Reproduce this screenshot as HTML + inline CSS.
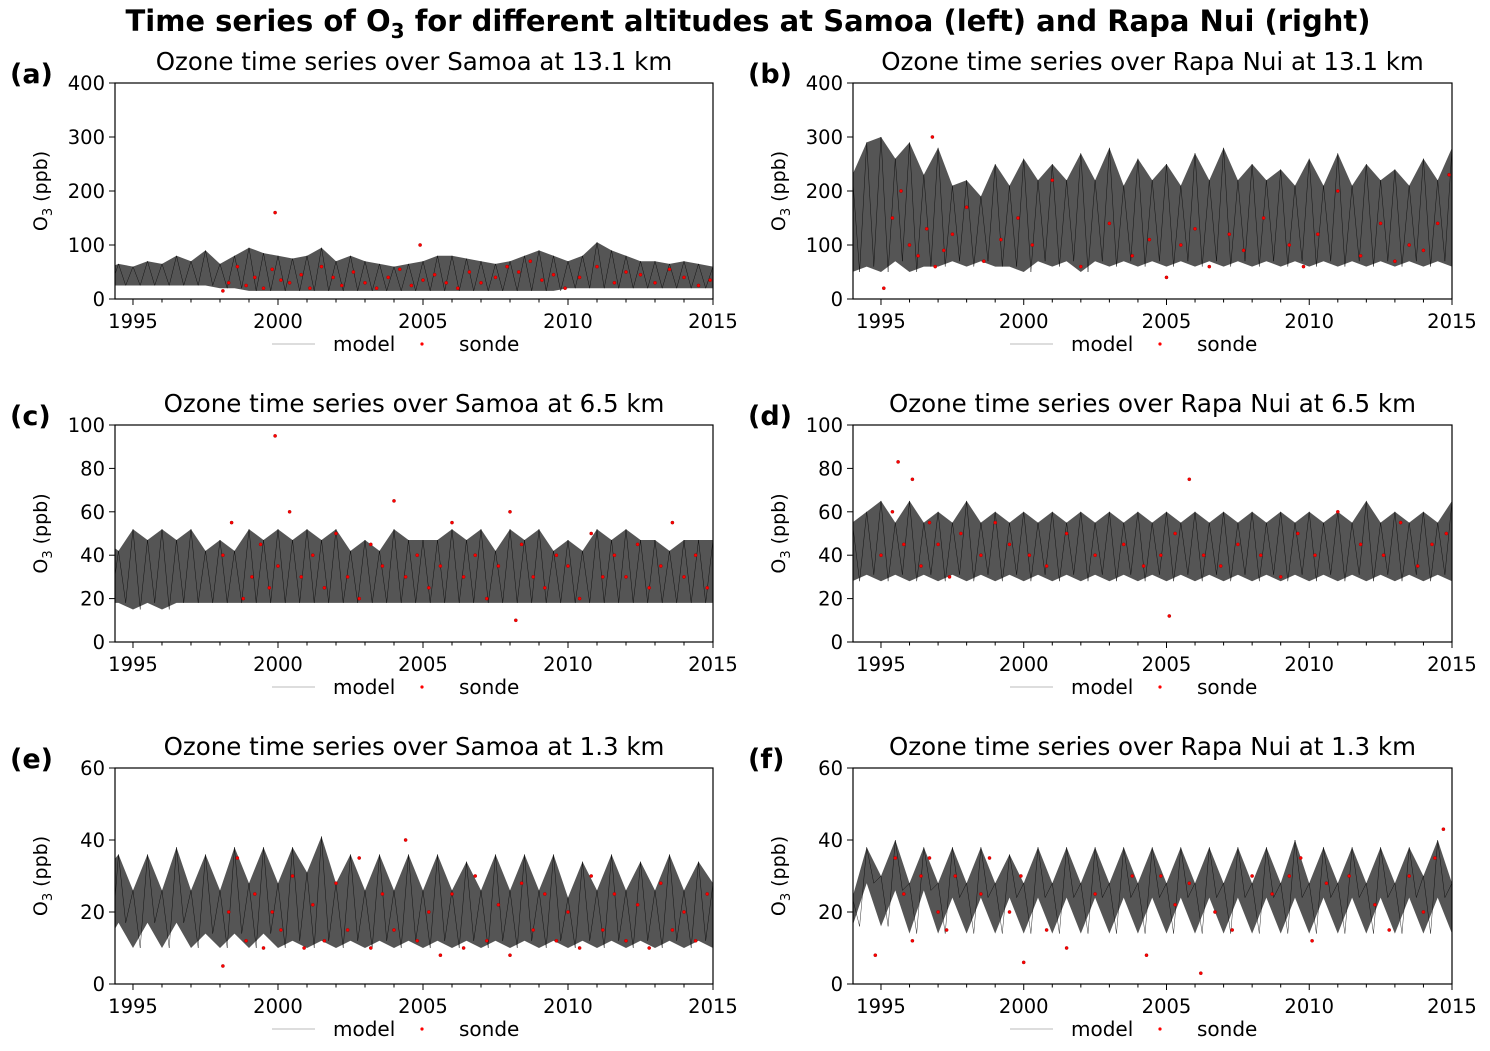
<!DOCTYPE html>
<html><head><meta charset="utf-8"><style>
body{margin:0;background:#fff}
svg text{font-family:"DejaVu Sans","Liberation Sans",sans-serif}
</style></head><body>
<svg id="fig" width="1490" height="1046" viewBox="0 0 1490 1046" xmlns="http://www.w3.org/2000/svg">
<text x="748" y="31" text-anchor="middle" font-size="29" font-weight="bold">Time series of O<tspan font-size="20" dy="7">3</tspan><tspan dy="-7"> for different altitudes at Samoa (left) and Rapa Nui (right)</tspan></text>
</svg>
<script>
// model envelope, semiannual from 1994.0
const tStart = 1994.0, tStep = 0.5;
const aHi=[55,65,60,70,65,80,70,90,65,80,95,85,80,75,80,95,70,80,70,65,60,65,70,80,80,75,70,65,70,80,90,80,70,80,105,90,80,70,70,65,70,65,60];
const aLo=[25,25,25,25,25,25,25,25,20,20,15,15,15,15,15,15,15,15,15,15,15,15,15,15,15,15,15,15,15,15,15,15,20,20,20,20,20,20,20,20,20,20,20];
const bHi=[230,290,300,260,290,230,280,210,220,190,250,210,260,220,250,220,270,220,280,210,260,220,250,210,270,220,280,220,250,220,240,210,260,210,270,210,250,220,240,210,260,220,280];
const bLo=[50,60,50,70,50,60,60,70,60,70,60,60,50,70,60,70,50,70,60,70,60,70,60,70,60,70,60,70,60,70,60,70,60,70,60,70,60,70,60,70,60,70,60];
const cHi=[47,42,52,47,52,47,52,42,47,42,52,47,52,47,52,47,52,42,47,42,52,47,47,47,52,47,52,42,52,47,52,42,47,42,52,47,52,47,47,42,47,47,47];
const cLo=[18,18,15,18,15,18,18,18,18,18,18,18,18,18,18,18,18,18,18,18,18,18,18,18,18,18,18,18,18,18,18,18,18,18,18,18,18,18,18,18,18,18,18];
const dHi=[55,60,65,55,65,55,60,55,65,55,60,55,60,55,60,55,60,55,60,55,60,55,60,55,60,55,60,55,60,55,60,55,60,55,60,55,65,55,60,55,60,55,65];
const dLo=[28,31,28,31,28,31,28,31,28,31,28,31,28,31,28,31,28,31,28,31,28,31,28,31,28,31,28,31,28,31,28,31,28,31,28,31,28,31,28,31,28,31,28];
const eHi=[31,36,26,36,26,38,26,36,26,38,28,38,28,38,31,41,28,36,26,36,26,36,26,36,26,34,26,36,26,36,26,36,24,34,26,36,26,34,26,36,26,34,28];
const eLo=[10,17,10,17,10,17,10,14,10,14,10,14,10,12,10,12,10,12,10,12,10,12,10,12,10,12,10,12,10,12,10,12,10,12,10,12,10,12,10,12,10,12,10];
const fHi=[24,38,30,40,28,38,28,38,28,38,28,36,28,38,28,38,28,38,28,38,28,38,28,38,28,38,28,38,28,38,28,40,28,38,28,38,28,38,28,38,30,40,28];
const fLo=[16,28,16,26,14,26,14,24,14,24,14,24,14,24,14,24,14,24,14,24,14,24,14,24,14,24,14,24,14,24,14,24,14,24,14,24,14,24,14,24,14,24,14];
// sonde observations
const aT=[1998.1,1998.3,1998.6,1998.9,1999.2,1999.5,1999.8,2000.1,2000.4,2000.8,2001.1,2001.5,2001.9,2002.2,2002.6,2003.0,2003.4,2003.8,2004.2,2004.6,2005.0,2005.4,2005.8,2006.2,2006.6,2007.0,2007.5,2007.9,2008.3,2008.7,2009.1,2009.5,2009.9,2010.4,2011.0,2011.6,2012.0,2012.5,2013.0,2013.5,2014.0,2014.5,2014.9,1999.9,2004.9];
const aV=[15,30,60,25,40,20,55,35,30,45,20,60,40,25,50,30,20,40,55,25,35,45,30,20,50,30,40,60,50,70,35,45,20,40,60,30,50,45,30,55,40,25,35,160,100];
const bT=[1995.1,1995.4,1995.7,1996.0,1996.3,1996.6,1996.9,1997.2,1997.5,1998.0,1998.6,1999.2,1999.8,2000.3,2001.0,2002.0,2003.0,2003.8,2004.4,2005.0,2005.5,2006.0,2006.5,2007.2,2007.7,2008.4,2009.3,2009.8,2010.3,2011.0,2011.8,2012.5,2013.0,2013.5,2014.0,2014.5,2014.9,1996.8];
const bV=[20,150,200,100,80,130,60,90,120,170,70,110,150,100,220,60,140,80,110,40,100,130,60,120,90,150,100,60,120,200,80,140,70,100,90,140,230,300];
const cT=[1998.1,1998.4,1998.8,1999.1,1999.4,1999.7,2000.0,2000.4,2000.8,2001.2,2001.6,2002.0,2002.4,2002.8,2003.2,2003.6,2004.0,2004.4,2004.8,2005.2,2005.6,2006.0,2006.4,2006.8,2007.2,2007.6,2008.0,2008.4,2008.8,2009.2,2009.6,2010.0,2010.4,2010.8,2011.2,2011.6,2012.0,2012.4,2012.8,2013.2,2013.6,2014.0,2014.4,2014.8,1999.9,2008.2];
const cV=[40,55,20,30,45,25,35,60,30,40,25,50,30,20,45,35,65,30,40,25,35,55,30,40,20,35,60,45,30,25,40,35,20,50,30,40,30,45,25,35,55,30,40,25,95,10];
const dT=[1995.0,1995.4,1995.8,1996.1,1996.4,1996.7,1997.0,1997.4,1997.8,1998.5,1999.0,1999.5,2000.2,2000.8,2001.5,2002.5,2003.5,2004.2,2004.8,2005.3,2005.8,2006.3,2006.9,2007.5,2008.3,2009.0,2009.6,2010.2,2011.0,2011.8,2012.6,2013.2,2013.8,2014.3,2014.8,1995.6,2005.1];
const dV=[40,60,45,75,35,55,45,30,50,40,55,45,40,35,50,40,45,35,40,50,75,40,35,45,40,30,50,40,60,45,40,55,35,45,50,83,12];
const eT=[1998.1,1998.3,1998.6,1998.9,1999.2,1999.5,1999.8,2000.1,2000.5,2000.9,2001.2,2001.6,2002.0,2002.4,2002.8,2003.2,2003.6,2004.0,2004.4,2004.8,2005.2,2005.6,2006.0,2006.4,2006.8,2007.2,2007.6,2008.0,2008.4,2008.8,2009.2,2009.6,2010.0,2010.4,2010.8,2011.2,2011.6,2012.0,2012.4,2012.8,2013.2,2013.6,2014.0,2014.4,2014.8];
const eV=[5,20,35,12,25,10,20,15,30,10,22,12,28,15,35,10,25,15,40,12,20,8,25,10,30,12,22,8,28,15,25,12,20,10,30,15,25,12,22,10,28,15,20,12,25];
const fT=[1994.8,1995.5,1995.8,1996.1,1996.4,1996.7,1997.0,1997.3,1997.6,1998.5,1998.8,1999.5,1999.9,2000.0,2000.8,2001.5,2002.5,2003.8,2004.3,2004.8,2005.3,2005.8,2006.2,2006.7,2007.3,2008.0,2008.7,2009.3,2009.7,2010.1,2010.6,2011.4,2012.3,2012.8,2013.5,2014.0,2014.4,2014.7];
const fV=[8,35,25,12,30,35,20,15,30,25,35,20,30,6,15,10,25,30,8,30,22,28,3,20,15,30,25,30,35,12,28,30,22,15,30,20,35,43];

const panels=[
 {id:'a',title:'Ozone time series over Samoa at 13.1 km',x0:115,x1:713,y0:83,y1:299,t0:1994.38,ymax:400,yt:[0,100,200,300,400],hi:aHi,lo:aLo,st:aT,sv:aV},
 {id:'b',title:'Ozone time series over Rapa Nui at 13.1 km',x0:853,x1:1452,y0:83,y1:299,t0:1994.02,ymax:400,yt:[0,100,200,300,400],hi:bHi,lo:bLo,st:bT,sv:bV},
 {id:'c',title:'Ozone time series over Samoa at 6.5 km',x0:115,x1:713,y0:425,y1:642,t0:1994.38,ymax:100,yt:[0,20,40,60,80,100],hi:cHi,lo:cLo,st:cT,sv:cV},
 {id:'d',title:'Ozone time series over Rapa Nui at 6.5 km',x0:853,x1:1452,y0:425,y1:642,t0:1994.02,ymax:100,yt:[0,20,40,60,80,100],hi:dHi,lo:dLo,st:dT,sv:dV},
 {id:'e',title:'Ozone time series over Samoa at 1.3 km',x0:115,x1:713,y0:768,y1:984,t0:1994.38,ymax:60,yt:[0,20,40,60],hi:eHi,lo:eLo,st:eT,sv:eV},
 {id:'f',title:'Ozone time series over Rapa Nui at 1.3 km',x0:853,x1:1452,y0:768,y1:984,t0:1994.02,ymax:60,yt:[0,20,40,60],hi:fHi,lo:fLo,st:fT,sv:fV}
];
const NS='http://www.w3.org/2000/svg';
const fig=document.getElementById('fig');
function mk(tag,attrs,parent){const e=document.createElementNS(NS,tag);for(const k in attrs)e.setAttribute(k,attrs[k]);parent.appendChild(e);return e;}
panels.forEach(p=>{
 const g=mk('g',{},fig);
 
 
 const X=t=>p.x0+(t-p.t0)/(2015-p.t0)*(p.x1-p.x0);
 const Y=v=>p.y1-v/p.ymax*(p.y1-p.y0);
 const cid='clip'+p.id;
 const cp=mk('clipPath',{id:cid},g);mk('rect',{x:p.x0,y:p.y0,width:p.x1-p.x0,height:p.y1-p.y0},cp);
 const dg=mk('g',{'clip-path':'url(#'+cid+')'},g);
 let d='';
 p.hi.forEach((v,i)=>{d+=(i?'L':'M')+X(tStart+i*tStep).toFixed(1)+','+Y(v).toFixed(1);});
 for(let i=p.lo.length-1;i>=0;i--)d+='L'+X(tStart+i*tStep).toFixed(1)+','+Y(p.lo[i]).toFixed(1);
 const band=mk('path',{d:d+'Z',fill:'#2a2a2a','fill-opacity':'0.8'},dg);
 
 
 let z='';
 for(let i=0;i<p.hi.length;i++){z+=(i?'L':'M')+X(tStart+i*tStep).toFixed(1)+','+Y(p.hi[i]).toFixed(1)+'L'+X(tStart+i*tStep+0.25).toFixed(1)+','+Y(p.lo[i]).toFixed(1);}
 mk('path',{d:z,fill:'none',stroke:'#000','stroke-width':0.4},dg);
 p.st.forEach((t,i)=>{
  const c=mk('circle',{cx:X(t).toFixed(1),cy:Y(p.sv[i]).toFixed(1),r:1.6,fill:'#f00',stroke:'#900','stroke-width':0.4},dg);
  
  
 });
 const fr=mk('rect',{x:p.x0,y:p.y0,width:p.x1-p.x0,height:p.y1-p.y0,fill:'none',stroke:'#000','stroke-width':1.2},g);
 
 
 for(let yr=1995;yr<=2015;yr++){
  const x=X(yr),maj=yr%5==0;
  mk('line',{x1:x,x2:x,y1:p.y1,y2:p.y1+(maj?6:3.5),stroke:'#000','stroke-width':1},g);
  if(maj){const tx=mk('text',{x:x,y:p.y1+29,'text-anchor':'middle','font-size':19.5},g);tx.textContent=yr;
   }
 }
 p.yt.forEach(v=>{
  const y=Y(v);mk('line',{x1:p.x0-6,x2:p.x0,y1:y,y2:y,stroke:'#000','stroke-width':1},g);
  const tx=mk('text',{x:p.x0-10,y:y+7,'text-anchor':'end','font-size':19.5},g);tx.textContent=v;
  
 });
 const yl=mk('text',{transform:`translate(${p.x0-68},${(p.y0+p.y1)/2}) rotate(-90)`,'text-anchor':'middle','font-size':19},g);
 yl.innerHTML='O<tspan font-size="13" dy="5">3</tspan><tspan dy="-5"> (ppb)</tspan>';
 
 const tt=mk('text',{x:(p.x0+p.x1)/2,y:p.y0-13,'text-anchor':'middle','font-size':24.5},g);tt.textContent=p.title;
 
 const lt=mk('text',{x:p.x0-105,y:p.y0+0,'font-size':27,'font-weight':'bold'},g);lt.textContent='('+p.id+')';
 
 const lg=mk('g',{},g);
 
 const ly=p.y1+45,lx=p.x0+157;
 mk('line',{x1:lx,x2:lx+43,y1:ly,y2:ly,stroke:'#bbb','stroke-width':1},lg);
 const m=mk('text',{x:lx+61,y:ly+7,'font-size':20},lg);m.textContent='model';
 mk('circle',{cx:lx+150,cy:ly,r:1.6,fill:'#f00'},lg);
 const s=mk('text',{x:lx+187,y:ly+7,'font-size':20},lg);s.textContent='sonde';
});
</script>
</body></html>
